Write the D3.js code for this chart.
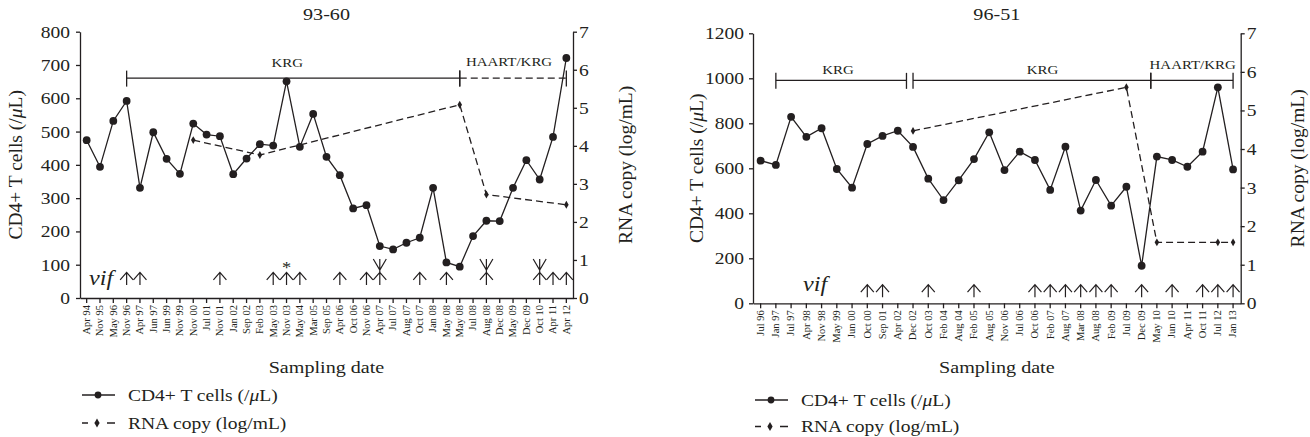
<!DOCTYPE html>
<html>
<head>
<meta charset="utf-8">
<script src="https://cdn.jsdelivr.net/npm/d3@7"></script>
<style>
  body { margin: 0; background: #fff; }
  text { font-family: "Liberation Serif", "Times New Roman", serif; fill: #231f20; }
</style>
</head>
<body>
<svg id="chart" width="1310" height="437"></svg>
<script>
// patient 93-60
var dates9360 = ["Apr 94","Nov 95","May 96","Nov 96","Apr 97","Jun 97","Jun 99","Nov 99","Nov 00","Jul 01",
  "Nov 01","Jan 02","Sep 02","Feb 03","May 03","Nov 03","May 04","Mar 05","Sep 05","Apr 06",
  "Oct 06","Nov 06","Apr 07","Jul 07","Aug 07","Oct 07","Jan 08","May 08","May 08","Jul 08",
  "Aug 08","Dec 08","May 09","Dec 09","Oct 10","Apr 11","Apr 12"];
var cd4_9360 = [474,394,532,592,331,498,418,373,524,491,
  486,372,419,462,458,651,454,553,424,369,
  269,279,156,146,166,181,331,107,94,186,
  232,231,331,414,356,484,721];
var rnaAt9360 = [8, 13, 28, 30, 36];
var rna9360 = [4.15, 3.76, 5.08, 2.72, 2.45];
var vifUp9360 = [3,4,10,14,15,16,19,21,22,25,27,30,34,35,36];
var vifDown9360 = [22,30,34];
var vifStar9360 = [15];

// patient 96-51
var dates9651 = ["Jul 96","Jan 97","Jul 97","Apr 98","Nov 98","May 99","Jun 00","Oct 00","Sep 01","Apr 02",
  "Dec 02","Oct 03","Feb 04","Aug 04","Feb 05","Aug 05","Nov 06","Jul 06","Oct 06","Feb 07",
  "Aug 07","Mar 08","Aug 08","Feb 09","Jul 09","Dec 09","May 10","Jun 10","Apr 11","Oct 11",
  "Jul 12","Jan 13"];
var cd4_9651 = [634,615,829,740,778,597,514,708,744,767,
  695,554,459,547,641,760,592,674,637,504,
  696,412,548,434,518,167,652,637,607,674,
  960,595];
var rnaAt9651 = [10, 24, 26, 30, 31];
var rna9651 = [4.47, 5.6, 1.58, 1.58, 1.58];
var vifUp9651 = [7,8,11,14,18,19,20,21,22,23,25,27,29,30,31];
var vifDown9651 = [];
var vifStar9651 = [];

var ink = "#231f20";
var svg = d3.select("#chart");

var panels = [
  {
    title: "93-60", dates: dates9360, cd4: cd4_9360, rnaAt: rnaAt9360, rna: rna9360,
    up: vifUp9360, down: vifDown9360, star: vifStar9360,
    left: 80, right: 573, top: 31.7, bottom: 298, cd4Max: 800, cd4Step: 100,
    padL: 6, arrowOff: 13, vifX: 89, vifY: 285,
    cd4TitleX: 15, rnaTitleX: 625,
    legendX: 82, legendY: [395, 423],
    periods: [
      { label: "KRG", from: 3, to: 28, labelAt: 15.06, ly: 6.18, dashed: false },
      { label: "HAART/KRG", from: 28, to: 36, labelAt: 31.7, ly: 6.22, dashed: true }
    ]
  },
  {
    title: "96-51", dates: dates9651, cd4: cd4_9651, rnaAt: rnaAt9651, rna: rna9651,
    up: vifUp9651, down: vifDown9651, star: vifStar9651,
    left: 753, right: 1240.7, top: 33.3, bottom: 303.3, cd4Max: 1200, cd4Step: 200,
    padL: 5, arrowOff: 6, vifX: 803, vifY: 291,
    cd4TitleX: 696, rnaTitleX: 1297,
    legendX: 755, legendY: [400, 426.5],
    periods: [
      { label: "KRG", from: 1, to: 9.57, labelAt: 5.08, ly: 6.07, dashed: false },
      { label: "KRG", from: 10, to: 25.6, labelAt: 18.5, ly: 6.07, dashed: false },
      { label: "HAART/KRG", from: 25.6, to: 31, labelAt: 28.35, ly: 6.2, dashed: false }
    ]
  }
];

// "CD4+ T cells (/μL)" with an italic mu
function cd4Label(t) {
  t.append("tspan").text("CD4+ T cells (/");
  t.append("tspan").attr("font-style", "italic").text("\u03bc");
  t.append("tspan").text("L)");
}

function drawPanel(p) {
  var g = svg.append("g");

  var x = d3.scaleBand().domain(d3.range(p.dates.length)).range([p.left, p.right]);
  var xc = function(i) { return x(i) + x.bandwidth() / 2; };
  var xf = function(v) { return p.left + (v + 0.5) * x.step(); };
  var y = d3.scaleLinear().domain([0, p.cd4Max]).range([p.bottom, p.top]);
  var y2 = d3.scaleLinear().domain([0, 7]).range([p.bottom, p.top]);

  // axes
  var xAxis = g.append("g")
    .attr("transform", `translate(0, ${p.bottom})`)
    .call(d3.axisBottom(x).tickFormat(function(i) { return p.dates[i]; }).tickSize(5).tickSizeOuter(0));
  xAxis.attr("font-size", 10.5).attr("font-family", null);
  xAxis.selectAll("text")
    .attr("transform", "rotate(-90)")
    .attr("x", -7).attr("y", 0).attr("dy", "0.32em")
    .style("text-anchor", "end");

  var yAxis = g.append("g")
    .attr("transform", `translate(${p.left}, 0)`)
    .call(d3.axisLeft(y).tickValues(d3.range(0, p.cd4Max + 1, p.cd4Step))
      .tickFormat(d3.format("d")).tickSize(4).tickPadding(p.padL).tickSizeOuter(0));
  yAxis.attr("font-size", 17).attr("font-family", null);

  var y2Axis = g.append("g")
    .attr("transform", `translate(${p.right}, 0)`)
    .call(d3.axisRight(y2).ticks(7).tickSize(4).tickPadding(2).tickSizeOuter(0));
  y2Axis.attr("font-size", 17).attr("font-family", null);

  g.selectAll(".domain, .tick line").attr("stroke", ink).attr("stroke-width", 1.3);
  g.selectAll(".tick text").attr("fill", ink);

  // treatment periods
  p.periods.forEach(function(b) {
    var by = y2(5.78);
    g.append("line")
      .attr("x1", xf(b.from)).attr("x2", xf(b.to))
      .attr("y1", by).attr("y2", by)
      .attr("stroke", ink).attr("stroke-width", 1.3)
      .attr("stroke-dasharray", b.dashed ? "7,4" : null);
    [b.from, b.to].forEach(function(v) {
      g.append("line")
        .attr("x1", xf(v)).attr("x2", xf(v))
        .attr("y1", by - 7.5).attr("y2", by + 8.5)
        .attr("stroke", ink).attr("stroke-width", 1.3);
    });
    g.append("text")
      .attr("x", xf(b.labelAt)).attr("y", y2(b.ly))
      .attr("dy", "0.35em")
      .attr("text-anchor", "middle")
      .attr("font-size", 13)
      .text(b.label);
  });

  // RNA copy (dashed)
  var rnaData = p.rnaAt.map(function(k, i) { return { k: k, v: p.rna[i] }; });
  g.append("path")
    .datum(rnaData)
    .attr("d", d3.line().x(function(d) { return xc(d.k); }).y(function(d) { return y2(d.v); }))
    .attr("fill", "none").attr("stroke", ink).attr("stroke-width", 1.3)
    .attr("stroke-dasharray", "7,4");
  g.selectAll(".rna-pt")
    .data(rnaData)
    .enter().append("path")
    .attr("class", "rna-pt")
    .attr("transform", function(d) { return `translate(${xc(d.k)}, ${y2(d.v)})`; })
    .attr("d", d3.symbol(d3.symbolDiamond).size(18))
    .attr("fill", ink);

  // CD4+ T cells
  g.append("path")
    .datum(p.cd4)
    .attr("d", d3.line().x(function(d, i) { return xc(i); }).y(function(d) { return y(d); }))
    .attr("fill", "none").attr("stroke", ink).attr("stroke-width", 1.3);
  g.selectAll(".cd4-pt")
    .data(p.cd4)
    .enter().append("circle")
    .attr("class", "cd4-pt")
    .attr("cx", function(d, i) { return xc(i); })
    .attr("cy", function(d) { return y(d); })
    .attr("r", 3.9)
    .attr("fill", ink);

  // vif mutation arrows
  var base = p.bottom - p.arrowOff;
  g.selectAll(".up")
    .data(p.up)
    .enter().append("path")
    .attr("class", "up")
    .attr("d", function(k) {
      var ax = xc(k);
      return `M${ax},${base}V${base - 12.7}M${ax - 6.5},${base - 5.2}L${ax},${base - 12.7}L${ax + 6.5},${base - 5.2}`;
    })
    .attr("fill", "none").attr("stroke", ink).attr("stroke-width", 1.2);
  g.selectAll(".down")
    .data(p.down)
    .enter().append("path")
    .attr("class", "down")
    .attr("d", function(k) {
      var ax = xc(k);
      return `M${ax},${base - 12.7}V${base - 26}M${ax - 6.5},${base - 26}L${ax},${base - 15}L${ax + 6.5},${base - 26}`;
    })
    .attr("fill", "none").attr("stroke", ink).attr("stroke-width", 1.2);
  g.selectAll(".star")
    .data(p.star)
    .enter().append("text")
    .attr("class", "star")
    .attr("x", function(k) { return xc(k); })
    .attr("y", base - 12)
    .attr("text-anchor", "middle")
    .attr("font-size", 16)
    .attr("fill", ink)
    .text("*");

  g.append("text")
    .attr("x", p.vifX).attr("y", p.vifY)
    .attr("font-size", 21)
    .attr("font-style", "italic")
    .text("vif");

  // titles
  g.append("text")
    .attr("x", (p.left + p.right) / 2).attr("y", 14)
    .attr("dy", "0.35em").attr("text-anchor", "middle")
    .attr("font-size", 17.5)
    .text(p.title);

  g.append("text")
    .attr("x", (p.left + p.right) / 2).attr("y", 367)
    .attr("dy", "0.35em").attr("text-anchor", "middle")
    .attr("font-size", 17.5)
    .text("Sampling date");

  var midY = (p.top + p.bottom) / 2;
  g.append("text")
    .attr("transform", `translate(${p.cd4TitleX}, ${midY}) rotate(-90)`)
    .attr("dy", "0.35em").attr("text-anchor", "middle")
    .attr("font-size", 19.5)
    .call(cd4Label);
  g.append("text")
    .attr("transform", `translate(${p.rnaTitleX}, ${midY}) rotate(-90)`)
    .attr("dy", "0.35em").attr("text-anchor", "middle")
    .attr("font-size", 19.5)
    .text("RNA copy (log/mL)");

  // legend
  var lx = p.legendX, l0 = p.legendY[0], l1 = p.legendY[1];
  g.append("line")
    .attr("x1", lx).attr("x2", lx + 33).attr("y1", l0).attr("y2", l0)
    .attr("stroke", ink).attr("stroke-width", 1.3);
  g.append("circle")
    .attr("cx", lx + 16).attr("cy", l0).attr("r", 3.4).attr("fill", ink);
  g.append("text")
    .attr("x", lx + 46).attr("y", l0).attr("dy", "0.35em")
    .attr("font-size", 17)
    .call(cd4Label);

  g.append("line")
    .attr("x1", lx).attr("x2", lx + 33).attr("y1", l1).attr("y2", l1)
    .attr("stroke", ink).attr("stroke-width", 1.3)
    .attr("stroke-dasharray", "6,19,8");
  g.append("path")
    .attr("transform", `translate(${lx + 15}, ${l1})`)
    .attr("d", d3.symbol(d3.symbolDiamond).size(24))
    .attr("fill", ink);
  g.append("text")
    .attr("x", lx + 46).attr("y", l1).attr("dy", "0.35em")
    .attr("font-size", 17)
    .text("RNA copy (log/mL)");
}

panels.forEach(drawPanel);

// the source figure's type runs wide; stretch horizontal text a little
var sx = 1.15;
svg.selectAll("text")
  .filter(function() { return !/rotate/.test(this.getAttribute("transform") || ""); })
  .each(function() {
    var t = d3.select(this);
    var tx = +t.attr("x") || 0;
    t.attr("transform", `matrix(${sx},0,0,1,${tx * (1 - sx)},0)`);
  });
</script>
</body>
</html>
